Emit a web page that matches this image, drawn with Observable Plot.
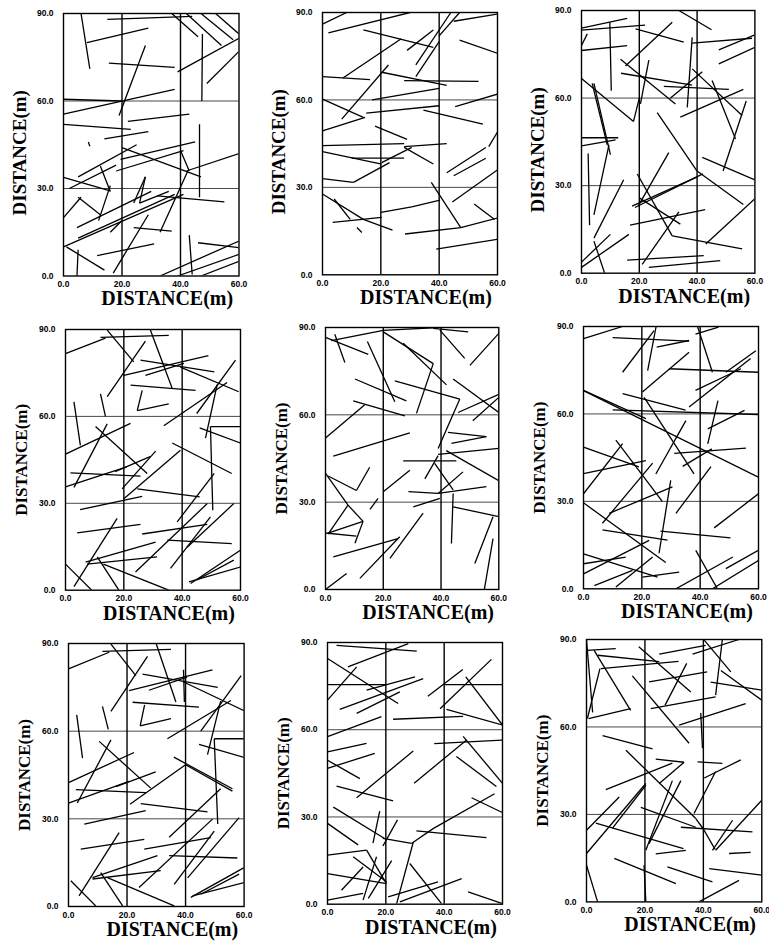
<!DOCTYPE html>
<html><head><meta charset="utf-8">
<script src="https://cdn.jsdelivr.net/npm/d3@7"></script>
<script src="https://cdn.jsdelivr.net/npm/@observablehq/plot@0.6"></script>
<style>
html,body{margin:0;padding:0;background:#fff;overflow:hidden;width:769px;height:942px;}
#wrap{position:relative;width:769px;height:942px;overflow:hidden;background:#fff;}
#wrap svg{position:absolute;overflow:visible;}
g[aria-label="title"] text{font-family:"Liberation Serif","Times New Roman",serif !important;}
</style></head><body><div id="wrap"></div>
<script>
// ---- data (metres) ----
const xTicks = [0, 20, 40, 60];
const yTicks = [0, 30, 60, 90];
const xGrid = [20, 40];
const yGrid = [30, 60];
const axisTitle = "DISTANCE(m)";

// trace segments [x1, y1, x2, y2]
const panel1 = [
[6,90,9,71],[15,88,44,89],[8,80,29,85],[37,90,46,82],[42,90,54,79],[47,90,58,81],[52,90,60,83],
[47.5,83,47.3,60],[39,70,60,81.5],[49,66,60,77],[15.5,73,38,71.5],[28,79,19,55],[0,60.6,20,60],
[0,55.5,38,64],[22,53,43,55.5],[0,52,23,50.3],[14,47,29,49.5],[8.5,46,9,44.5],[5,34,25,45],
[20,44,47,34],[19.5,40,45,46],[18,36,41,43],[0,33.8,16,29.2],[12.6,37.7,16,29],[0,10,41,28],
[32,27.5,55,25.4],[46.5,52,46.5,27],[42,36,60,42],[33,15,42.5,36],[17,1,29,21],[24,16.6,37,15.4],
[11.5,7,31,11],[1,10,14,2],[4.6,0,5,9],[33,0,60,12],[39,0,60,7.4],[47,0,60,5],[43,14,44,0.5],
[46,11.4,60,9.7],[5,27,12.6,21],[4.6,16.6,30,29],[5,13,38,28],[0,20,6,27],[16,15,20,19],
[24,25,28,34],[28,34,26,25],[26,25,36,29],[12,19,16,31],[2,30,18,38],[40,43,43,36]
];
const panel2 = [
[0,86,8.3,90],[2,83,30,90],[14,84,38,78],[7,67.5,27,81],[29,77,38,84],[32,72,44,90],[32,68,40,80],
[45,87,60,89.5],[40,82,47,90],[47,80.5,60,76],[0,68,16.3,67],[20.3,69.5,42.6,65],[28,66.6,53.5,66.4],
[6.6,53.4,22.6,72],[17,60,40,64],[0,60.3,14,54],[0,49.4,14.6,54],[15,55.5,40,58],[34.6,56.5,55,51.7],
[45.5,57.7,60,62],[0,44.3,28,45],[18,51,29,46.5],[28,44,42.6,45],[0,42.3,20.3,38],[10,40,28,40],
[0,33,10.6,31.7],[10.6,31.7,23,38.5],[20.3,38.5,30.6,43.7],[28,43.7,38,38],[42.6,35,56,43.7],
[45,34,56,40],[44.5,25,60,36],[57,44,60,49],[0,27.7,14,19],[4,26,9.5,19],[3.5,18,20.3,19.7],
[20,21.4,30.6,23.3],[30.6,23.3,40.3,25.6],[14,19,24,15.3],[11.8,16.2,13.5,14.5],[37.3,31.7,47.4,16.2],
[47.4,16.2,60,19.5],[52,24.3,59,19],[28.3,14,47.4,16.2],[39,8.8,60,12.2]
];
const panel3 = [
[0,84,15.8,87.3],[0,83.3,22,85],[9.8,86,10.3,62.5],[0,76.3,15.8,78],[18.7,83.7,35.4,79.2],
[33.7,90,45,83.4],[15.2,71,31.4,86],[13.5,73.3,32.5,58],[20.4,58,23.3,73],[13.7,68.5,38.3,64.4],
[28.5,64,51,63],[30.8,60,41.8,69],[38.3,80.8,36.6,56.8],[38.3,78.8,59,80.5],[47.5,76.5,60,81.7],
[47.5,71.7,60,77.4],[38.3,70,55.6,54],[45.2,66,53.3,46],[49,35,57,59],[34.2,53.5,56,63],
[26.2,55,40,35],[0,66.7,18,52],[18,52,20,60],[3.7,65,8.9,44],[4.3,65,10,40.6],[0,46.4,12.7,46.4],
[0,43.6,11.8,45.7],[2.3,41,2.8,16.4],[4.3,20,9.5,44],[4.3,12,14.6,32],[0,3.8,10,13.3],[4.3,11,8,0],
[41.8,39.7,60,32],[40,35,56,23.5],[43,10,60,25.5],[19.3,34,31.4,12.8],[31.4,12.8,55.6,8.3],
[19.6,23,30.2,41.3],[17.5,23,40,33],[18.5,22.5,42,34],[20,25.8,34.2,16.8],[16.8,16.5,42.8,21.8],
[21,3,33.7,21],[15.8,4.5,42.3,6],[23.3,2,48,4.3],[0,2,16.4,13.3],[0,78,2,82]
];
const panel4 = [
[0,81.7,13.7,87],[12,87.3,35.4,88],[14.3,89.8,23.4,78.8],[14.3,66.8,27.4,86],[20,74.2,49,81],
[25.7,79.4,51,75.4],[29.1,89.8,36.6,69.6],[27.4,74.2,40.6,78.3],[39.4,77,59.4,68.5],[22.3,70.8,44.6,69],
[24.6,62,35.4,64.3],[24.6,62,26.3,69],[33.7,56.8,55.4,71.7],[45,61,58.3,79.4],[48,52.5,52,71],
[49.7,56.5,60,56.5],[49.7,56.5,50.5,27.6],[46,56,60,50.8],[36.6,50.8,57,40.3],[0,47,22.3,57.6],
[10.3,56.5,28,40.3],[2.9,35.5,14.3,57.4],[0,35.7,21,42.6],[1.7,40.5,25.7,39.4],[17,40.9,29,46.1],
[19.4,35,30.9,48],[20,31.6,39.4,48.3],[24.6,35,46,32.2],[5,27.8,26.3,32.4],[4,19.8,25.7,22.7],
[26.3,19.4,48.6,22.7],[2.9,1.2,17.7,24.8],[6.9,9.7,30.9,16.6],[7.4,9,31.4,11.5],[10.9,11.5,18.3,0],
[0,9,9,0],[13,9,35.4,0],[34.9,17.3,57,16.1],[24,6.3,48.6,29.9],[36,7.5,49.7,25.3],[38.3,23.6,51,40.3],
[41.7,14.8,57.7,29.9],[42.9,2.3,60,13.8],[42.3,2.9,60,8],[45,3.5,57.7,10.4],[2.9,65,5.1,50],[12,67.8,13.7,60]
];
const panel5 = [
[2,85.5,20,89],[20,89,39,90],[20,88.5,37.3,77.6],[37.3,89.7,49.4,88.5],[3.2,87.7,6.7,78],[0,86.6,14.8,80.8],
[14.5,85.2,24,64.5],[26.9,84.6,41.9,70.3],[39.6,89.1,48.2,79.4],[50,77,60,88],[31.5,60.5,37.3,77.6],
[44.2,72.3,60,60.8],[10.2,72.3,28,64.8],[9.6,64.8,27.5,59.6],[24,71.7,46.5,65.4],[0,52,13.6,63.5],
[2.7,45.8,29.2,53.8],[46.5,65.4,39,48.4],[45.9,60.8,60,67],[51,58,60,66],[42.4,54,55.7,52.5],
[55.7,52.5,43.6,50.2],[39,46.4,60,48.5],[41.8,47.7,60,37.4],[26.9,44.2,45.3,44.2],[37.8,43.3,44.2,34.2],
[34.4,38,39,46],[20,33.6,29.2,41],[0.9,39,10.7,34],[10.7,34,15.3,42],[0,39.9,7.8,29],[7.8,29,0.9,19],
[0.9,19.4,13,23.4],[0,19.4,10.7,18.3],[7.8,29,13,23.4],[13,23.4,10.2,15.9],[15.4,27.5,18.2,31.3],
[2.7,11.2,25.1,17.5],[11.9,3.8,25.7,18.1],[22.3,10.7,33.8,26.2],[30.4,28.4,39.6,31.3],[28.7,33.6,39,33],
[39,33,55.7,35.3],[39,33,47.6,40.4],[44.2,28.4,60,25],[44.2,33,43.6,15.8],[51.7,8.9,58,25],
[55,0,58,17.5],[0,0,7.3,5.5]
];
const panel6 = [
[0,85.8,13.4,90],[10,86.2,36.2,85],[25.1,82.9,36.2,85.2],[13.4,74.3,24.2,88.6],[22,74.9,24.9,90],
[39.1,90,44.2,74.3],[38.4,87.4,46.3,89.8],[20.2,67.5,36.2,81.2],[29.3,75.5,60,74.3],[36.2,62.4,57.3,79],
[38.4,68.1,54,75.5],[48.8,74.3,59.1,81.7],[0,68.1,21.4,58.4],[13.4,67,35,61.3],[10,61.4,60,59.8],
[0,68,60,38.3],[20.8,65.7,37.9,39.4],[42.6,49.7,46.1,64.6],[42.6,54.9,55.2,61.2],[31.1,46.5,55.7,48.3],
[24.8,39.4,35.1,57.7],[0,48.6,19,41.8],[0,39.5,21.4,44],[0,32.6,13.4,49.8],[11.1,51,27,30],
[6.5,22.5,23.7,43.1],[0,29.5,28.2,9],[6.5,20.2,28.8,16.7],[8.8,25.9,30.5,35],[25.9,12.2,29.9,37.2],
[26.4,19.8,50.4,17.5],[31.7,25.9,43.7,41.9],[44.8,20.9,60,32.6],[0,8.6,14.5,10.9],[0,5.1,22.5,16.6],
[0,12,25.4,4],[3.7,1.1,16.8,6.3],[11.1,0.6,23.7,10.9],[20.2,4,32.8,5.7],[31.7,0,51.2,10.9],
[38.5,13.2,45.9,0],[44.2,0,60,9.7],[48.8,6.9,60,13.2],[34,42,44,48]
];
const panel7 = [
[0,81.3,13.9,87],[11.6,87.3,35,88],[14.5,89.8,23,79],[14.5,66.8,27,85.6],[20.7,73.9,49.2,81],
[25.3,79.5,51,75],[30,89.8,36.7,70],[27.5,74,40.5,78.5],[39,77,60,67],[21.9,69.9,44.6,68.2],
[24.5,61.8,35,64.3],[24.5,61.8,26,69],[33.8,57.4,55.5,70.5],[45.2,60,59,79],[47.5,52,52,70.3],
[49.8,57.4,60,57.4],[49.8,57.4,51,28.2],[44.6,55.5,60,51],[36,51.1,56,40.3],[21,35,40,48.5],
[40,48.5,56,39.5],[0,42.4,22.4,52.7],[10.5,56.5,28.1,40.5],[3,35.4,14.5,57],[0,35.4,20.7,42.8],
[2.5,40,26.4,39],[16.2,41,29.8,46.1],[24.7,35.2,47.5,32.4],[5.4,28.2,26.4,32.8],[4.2,19.6,25.9,23],
[25.9,19.6,48.6,23.6],[3.6,3.6,17.3,25.3],[8.2,9.9,30.4,17.4],[8.2,9.4,31.5,12.3],[11,11.6,18.5,0.2],
[0.8,8.8,9.3,0.2],[13.3,9.9,36.1,0.2],[34.4,17.4,57.7,16.6],[24.1,6.5,49.2,29.9],[36.1,7.6,49.8,25.8],
[34.4,23.7,52,40.3],[40.7,9.8,58.3,30.4],[41.8,3.1,60,13.3],[42.4,3.6,60,8.2],[45.2,4.2,58.3,11.1],
[2.8,65.6,4.8,50.8],[11.6,68.5,13.6,60.6],[39.3,81,39.6,70]
];
const panel8 = [
[3.1,89,30.6,87],[7,81.6,27.7,89.6],[0,84.5,24.2,69],[0,70.2,10,81.6],[13.4,73.6,30,78.2],
[10,65.6,24.8,73],[4.2,67,32.8,77.6],[0,75.5,20,75.5],[40,75.5,60,75.5],[34.4,71.5,46.4,80.7],
[38.6,67.2,56.2,84.2],[47.4,78.2,60,61.6],[40.8,67,60,61.6],[22.5,63.6,46.5,64.6],[0,57.6,18.5,64.5],
[0,52.4,13.4,55.3],[0,46.7,16.2,51.9],[0,49.5,11.1,43.2],[10,36.6,29.4,52.7],[3.1,40.6,22.5,35.5],
[29.7,41.6,47.7,56.5],[36.6,55.2,60,56.4],[46.5,57.7,60,41.6],[44.2,50.8,57.9,40.5],[2,33.4,19.7,22.5],
[0,27.8,10.5,20.4],[17.9,32,15.6,21],[19,22.6,28.8,20.9],[28.8,20.9,36.2,26],[30.5,25.2,54.5,22.9],
[36.2,26,57.3,38],[49.4,36.6,60,31.5],[0,16.9,13.4,18.6],[13.4,18.6,20.2,7.1],[8.8,16.3,20.2,7.7],
[0,10.5,20.2,7.1],[4.8,4.8,12.2,12.8],[12.2,1.4,16.8,16.3],[0,1.4,12.2,3.7],[23.7,0.2,29.4,21.3],
[20.8,2.5,37.9,7.7],[24.8,0.8,46,8.8],[28.2,14,39.1,0.2],[48.2,4.2,60,0.2],[19,20,24,29],[14,2,22,15]
];
const panel9 = [
[0,86.3,10,86.9],[0,89.8,2.1,65],[0.3,62.9,4.6,80],[2.6,86.3,15.1,65.7],[0.7,62.9,15.1,66.3],
[4.9,80,31.5,82.5],[3.8,84.6,24.9,82.4],[15.7,77.5,35.1,54.4],[17.9,87.5,35.7,72],[24.9,85,40.8,88],
[21.4,75.5,41.3,78.9],[26.9,67.5,34.3,81.8],[36.3,85,52.2,90],[40.3,89.8,49.4,78.9],[46.5,90,44.2,70.9],
[46,79.4,60,69.2],[42.5,75.4,60,72.6],[22,66.3,44.2,70.3],[31.7,60.6,54.5,68],[39.1,64.8,39.7,52.7],
[5.5,57,22.6,52.5],[13.5,52,37.4,28.6],[23.7,49,33.4,47.9],[24.9,40.6,33.4,47.9],[6.6,38.5,29.4,47.6],
[38,48,46.5,47.5],[40.3,42.5,52.8,48.7],[36.8,30.3,44.2,44.7],[0,24.6,11.2,36],[0,16.6,20.3,40.6],
[3.2,27,33.2,18.3],[8.9,25.3,20.3,40],[20.3,17.7,29.4,41.6],[21.4,20,32.3,41.6],[18.6,32.4,37.4,25.6],
[32.3,25.6,56.8,24],[43.1,17.7,50,28],[44.2,17.7,60,34.9],[48.8,16.6,56.2,17],[23.7,16.5,34,17.7],
[9.5,14.9,30.6,6.3],[27.7,12,43.1,6.9],[42,11.4,60,9.2],[38.5,0,52.2,7.4],[0,12.6,3.8,0],[19.7,12.6,20.3,0],
[37.4,28.6,40,25],[40,25,44,18]
];
const panels = [panel1, panel2, panel3, panel4, panel5, panel6, panel7, panel8, panel9];

// ---- layout: frame position of each panel on the page [left, right, top, bottom] ----
const frames = [
[63,238.5,12.5,275],[321.7,496.7,11.7,274],[581.3,754.7,10,272.7],
[65,240,329.3,590],[325,498.3,327.3,589.3],[583,758,326,588.3],
[67.7,243.3,642.7,905.7],[327,502,642.3,904],[586,761.3,639.3,901.7]
];

const wrap = document.getElementById("wrap");
const ml = 64, mr = 14, mt = 12, mb = 40;
const serif = "'Liberation Serif', 'Times New Roman', serif";
const sans = "'Liberation Sans', Arial, sans-serif";
panels.forEach((segs, i) => {
  const [L, R, T, B] = frames[i];
  const W = R - L, H = B - T;
  const row = Math.floor(i / 3);
  const svg = Plot.plot({
    width: W + ml + mr, height: H + mt + mb,
    marginLeft: ml, marginRight: mr, marginTop: mt, marginBottom: mb,
    style: {background: "transparent", overflow: "visible", fontFamily: sans},
    x: {domain: [0, 60]},
    y: {domain: [0, 90]},
    marks: [
      Plot.ruleY(yGrid, {stroke: "#333", strokeWidth: 0.9}),
      Plot.ruleX(xGrid, {stroke: "#000", strokeWidth: 1.4}),
      Plot.link(segs, {x1: d => d[0], y1: d => d[1], x2: d => d[2], y2: d => d[3],
        stroke: "#000", strokeWidth: 1.3, clip: true}),
      Plot.frame({stroke: "#000", strokeWidth: 1.4}),
      Plot.axisX(xTicks, {tickSize: 0, tickPadding: 5, tickFormat: d => d.toFixed(1), label: null,
        fontSize: 8.5, fontWeight: "bold", fontFamily: sans}),
      Plot.axisY(yTicks, {tickSize: 0, tickPadding: 10, tickFormat: d => d.toFixed(1), label: null,
        fontSize: 8.5, fontWeight: "bold", fontFamily: sans}),
      Plot.text([axisTitle], {text: d => d, frameAnchor: "bottom", textAnchor: "middle", dx: 16, dy: 23,
        lineAnchor: "middle", fontSize: 20, fontWeight: "bold", fontFamily: serif, ariaLabel: "title"}),
      Plot.text([axisTitle], {text: d => d, frameAnchor: "left", textAnchor: "middle", dx: -44,
        dy: row === 0 ? 8 : 0, rotate: -90, lineAnchor: "middle", fontSize: row === 0 ? 19 : 17,
        fontWeight: "bold", fontFamily: serif, ariaLabel: "title"})
    ]
  });
  svg.style.left = (L - ml) + "px";
  svg.style.top = (T - mt) + "px";
  wrap.appendChild(svg);
});
</script>
</body></html>
